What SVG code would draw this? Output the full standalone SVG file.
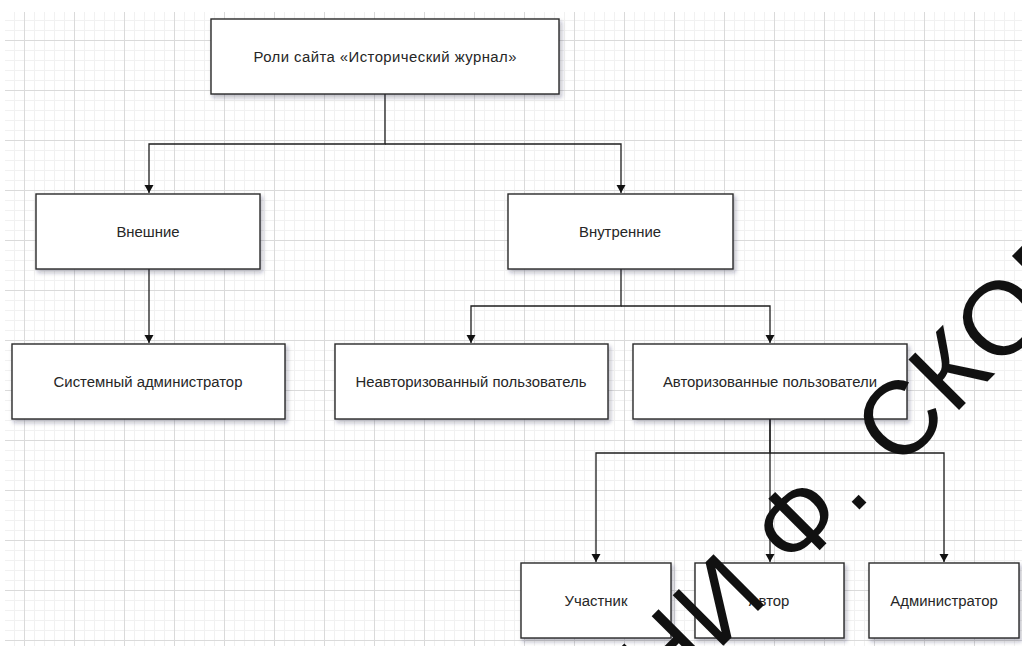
<svg xmlns="http://www.w3.org/2000/svg" width="1022" height="646" viewBox="0 0 1022 646">
<defs>
<pattern id="grid" patternUnits="userSpaceOnUse" x="24" y="40" width="50" height="50">
<rect x="10" y="0" width="1" height="50" fill="#f1f1f1"/>
<rect x="20" y="0" width="1" height="50" fill="#f1f1f1"/>
<rect x="30" y="0" width="1" height="50" fill="#f1f1f1"/>
<rect x="40" y="0" width="1" height="50" fill="#f1f1f1"/>
<rect x="0" y="10" width="50" height="1" fill="#f1f1f1"/>
<rect x="0" y="20" width="50" height="1" fill="#f1f1f1"/>
<rect x="0" y="30" width="50" height="1" fill="#f1f1f1"/>
<rect x="0" y="40" width="50" height="1" fill="#f1f1f1"/>
<rect x="0" y="0" width="1" height="50" fill="#dadada"/>
<rect x="0" y="0" width="50" height="1" fill="#dadada"/>
</pattern>
<filter id="shadow" x="-10%" y="-20%" width="130%" height="150%">
<feDropShadow dx="2" dy="3" stdDeviation="2" flood-color="#1a1a40" flood-opacity="0.3"/>
</filter>
<marker id="arrow" markerUnits="userSpaceOnUse" markerWidth="10" markerHeight="10" refX="8" refY="4.5" orient="auto">
<path d="M0,0 L8,4.5 L0,9 Z" fill="#111"/>
</marker>
<style>
.box{fill:#fff;stroke:#2a2a2a;stroke-width:1.4;filter:url(#shadow)}
.lbl{font-family:"Liberation Sans",Arial,sans-serif;font-size:14.9px;fill:#262626;text-anchor:middle;dominant-baseline:central}
.conn{fill:none;stroke:#1e1e1e;stroke-width:1.3}
.wm{font-family:"Liberation Sans",Arial,sans-serif;font-size:104px;letter-spacing:3px;fill:#111}
</style>
</defs>
<rect x="0" y="0" width="1022" height="646" fill="#fff"/>
<rect x="5" y="12" width="1017" height="634" fill="url(#grid)"/>

<g id="connectors">
<path class="conn" d="M385,94 V144 H149 V193" marker-end="url(#arrow)"/>
<path class="conn" d="M385,144 H621 V193" marker-end="url(#arrow)"/>
<path class="conn" d="M149,269 V343" marker-end="url(#arrow)"/>
<path class="conn" d="M621,269 V306 H471 V343" marker-end="url(#arrow)"/>
<path class="conn" d="M621,306 H770 V343" marker-end="url(#arrow)"/>
<path class="conn" d="M770,419 V453 H596 V562" marker-end="url(#arrow)"/>
<path class="conn" d="M770,419 V562" marker-end="url(#arrow)"/>
<path class="conn" d="M770,453 H944 V562" marker-end="url(#arrow)"/>
</g>

<g id="root">
<rect class="box" x="211" y="19" width="348" height="75"/>
<text class="lbl" x="385" y="57" textLength="263" lengthAdjust="spacing">Роли сайта «Исторический журнал»</text>
</g>
<g id="external">
<rect class="box" x="36" y="194" width="224" height="75"/>
<text class="lbl" x="148" y="232">Внешние</text>
</g>
<g id="internal">
<rect class="box" x="508" y="194" width="225" height="75"/>
<text class="lbl" x="620" y="232">Внутренние</text>
</g>
<g id="sysadmin">
<rect class="box" x="12" y="344" width="273" height="75"/>
<text class="lbl" x="148" y="382">Системный администратор</text>
</g>
<g id="unauthorized">
<rect class="box" x="335" y="344" width="273" height="75"/>
<text class="lbl" x="471" y="382">Неавторизованный пользователь</text>
</g>
<g id="authorized">
<rect class="box" x="633" y="344" width="274" height="75"/>
<text class="lbl" x="770" y="382">Авторизованные пользователи</text>
</g>
<g id="participant">
<rect class="box" x="521" y="563" width="150" height="75"/>
<text class="lbl" x="596" y="601">Участник</text>
</g>
<g id="author">
<rect class="box" x="695" y="563" width="149" height="75"/>
<text class="lbl" x="769" y="601">Автор</text>
</g>
<g id="administrator">
<rect class="box" x="869" y="563" width="150" height="75"/>
<text class="lbl" x="944" y="601">Администратор</text>
</g>

<text class="wm" transform="translate(662,707) rotate(-45)">НИ Ф. СКОР</text>
</svg>
